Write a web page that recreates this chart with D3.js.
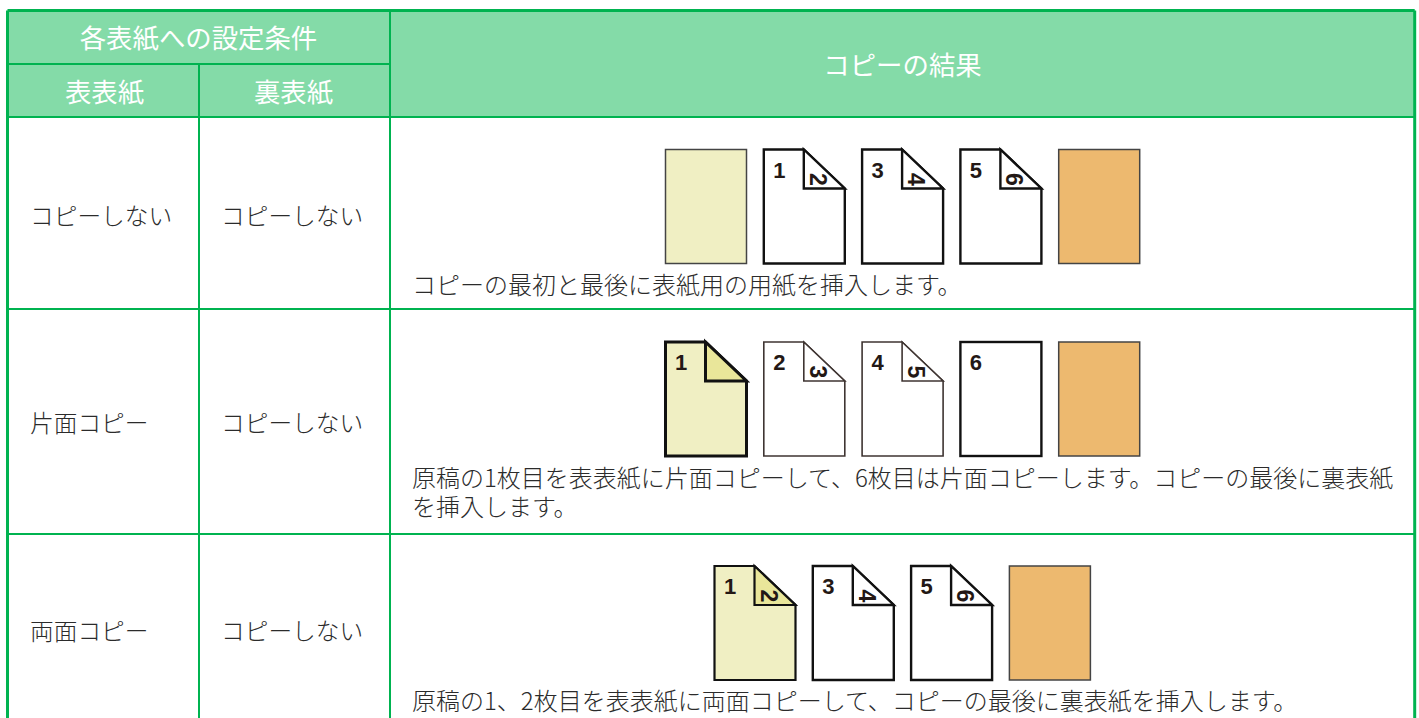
<!DOCTYPE html>
<html lang="ja">
<head>
<meta charset="utf-8">
<script src="https://cdn.jsdelivr.net/npm/d3@7"></script>
<style>
html, body { margin: 0; padding: 0; background: #fff; overflow: hidden; }
svg { display: block; }
text { font-family: "Noto Sans CJK JP", sans-serif; }
.num { font-family: "Liberation Sans", Arial, sans-serif; font-weight: bold; fill: #231815; }
</style>
</head>
<body>
<div class="canvas"></div>
<script>
const groupHeader = '各表紙への設定条件';
const columnHeaders = ['表表紙', '裏表紙'];
const resultHeader = 'コピーの結果';
const frontCover = ['コピーしない', '片面コピー', '両面コピー'];
const backCover = ['コピーしない', 'コピーしない', 'コピーしない'];
const notes = [
    ['コピーの最初と最後に表紙用の用紙を挿入します。'],
    ['原稿の1枚目を表表紙に片面コピーして、6枚目は片面コピーします。コピーの最後に裏表紙', 'を挿入します。'],
    ['原稿の1、2枚目を表表紙に両面コピーして、コピーの最後に裏表紙を挿入します。']
];
// one list of sheets per row: [front page, back page, kind]
const sheets = [
    [[null, null, 'blank'], ['1', '2', 'plain'], ['3', '4', 'plain'], ['5', '6', 'plain'], [null, null, 'back']],
    [['1', '', 'heavy'], ['2', '3', 'thin'], ['4', '5', 'thin'], ['6', null, 'plain'], [null, null, 'back']],
    [['1', '2', 'cover'], ['3', '4', 'plain'], ['5', '6', 'plain'], [null, null, 'back']]
];

const dims = { width: 1419, height: 718 };
const green = '#00b350', headFill = '#84dba8', ink = '#2b2b2b';
const colX = [7.5, 199, 390, 1414.7];
const lineY = [10.5, 64, 117, 309, 534];
const sheetTop = [149.5, 342, 566];
const sheetLeft = [665.5, 665.5, 714.5];
const rowBase = [225, 432, 640];
const noteBase = [294, 487, 710];
const page = { w: 81, h: 114, foldX: 41, foldY: 39 };
const styles = {
    blank: { fill: '#f0efc3', flap: '#f0efc3', stroke: '#444', width: 1.5 },
    plain: { fill: '#fff', flap: '#fff', stroke: '#111', width: 2.4 },
    thin: { fill: '#fff', flap: '#fff', stroke: '#3f3532', width: 1.6 },
    heavy: { fill: '#f0efc3', flap: '#e9e69a', stroke: '#111', width: 3 },
    cover: { fill: '#f0efc3', flap: '#e9e69a', stroke: '#111', width: 2.2 },
    back: { fill: '#edb96f', flap: '#edb96f', stroke: '#444', width: 1.5 }
};

const svg = d3.select('.canvas').append('svg')
    .attr('width', dims.width)
    .attr('height', dims.height);

// header fill
svg.append('rect')
    .attr('x', colX[0]).attr('y', lineY[0])
    .attr('width', colX[3] - colX[0]).attr('height', lineY[2] - lineY[0])
    .attr('fill', headFill);

// grid lines
const grid = [
    [colX[0], lineY[0], colX[3], lineY[0], 3],
    [colX[0], lineY[0], colX[0], dims.height, 3],
    [colX[3], lineY[0], colX[3], dims.height, 3],
    [colX[2], lineY[0], colX[2], dims.height, 2],
    [colX[1], lineY[1], colX[1], dims.height, 2],
    [colX[0], lineY[1], colX[2], lineY[1], 2],
    [colX[0], lineY[2], colX[3], lineY[2], 2],
    [colX[0], lineY[3], colX[3], lineY[3], 2],
    [colX[0], lineY[4], colX[3], lineY[4], 2]
];
svg.selectAll('line.grid').data(grid).enter().append('line')
    .attr('class', 'grid')
    .attr('x1', d => d[0]).attr('y1', d => d[1])
    .attr('x2', d => d[2]).attr('y2', d => d[3])
    .attr('stroke', green)
    .attr('stroke-width', d => d[4]);

// header text
const head = (txt, x, y) => svg.append('text')
    .attr('x', x).attr('y', y)
    .attr('text-anchor', 'middle')
    .attr('font-size', 26.4)
    .attr('fill', '#fff')
    .text(txt);
head(groupHeader, 198.5, 48);
head(columnHeaders[0], 104.5, 102);
head(columnHeaders[1], 293.5, 102);
head(resultHeader, 902.5, 75);

// first two columns
const cell = (list, x) => svg.selectAll(null).data(list).enter().append('text')
    .attr('x', x)
    .attr('y', (d, i) => rowBase[i])
    .attr('font-size', 23.7)
    .attr('font-weight', 300)
    .attr('fill', ink)
    .text(d => d);
cell(frontCover, 30);
cell(backCover, 221);

// notes
notes.forEach((lines, r) => {
    svg.selectAll(null).data(lines).enter().append('text')
        .attr('x', 412)
        .attr('y', (d, i) => noteBase[r] + i * 29)
        .attr('font-size', 24)
        .attr('font-weight', 300)
        .attr('fill', ink)
        .text(d => d);
});

// sheets
const slot = d3.scaleLinear().domain([0, 1]).range([0, 98.3]);
const sheetPath = d3.line();
const outline = sheetPath([
    [0, 0], [page.w - page.foldX, 0], [page.w, page.foldY], [page.w, page.h], [0, page.h]
]) + 'Z';
const flap = sheetPath([
    [page.w - page.foldX, 0], [page.w, page.foldY], [page.w - page.foldX, page.foldY]
]) + 'Z';

const rows = svg.selectAll('g.row').data(sheets).enter().append('g')
    .attr('class', 'row')
    .attr('transform', (d, r) => `translate(${sheetLeft[r]}, ${sheetTop[r]})`);

const sheet = rows.selectAll('g.sheet').data(d => d).enter().append('g')
    .attr('class', 'sheet')
    .attr('transform', (d, i) => `translate(${slot(i)}, 0)`);

sheet.each(function (d) {
    const g = d3.select(this);
    const [front, back, kind] = d;
    const st = styles[kind];

    if (back !== null) {
        g.append('path').attr('d', outline)
            .attr('fill', st.fill).attr('stroke', st.stroke)
            .attr('stroke-width', st.width);
        g.append('path').attr('d', flap)
            .attr('fill', st.flap)
            .attr('stroke', st.stroke).attr('stroke-width', st.width);
    } else {
        g.append('rect')
            .attr('width', page.w).attr('height', page.h)
            .attr('fill', st.fill).attr('stroke', st.stroke)
            .attr('stroke-width', st.width);
    }
    if (front !== null) {
        g.append('text').attr('class', 'num')
            .attr('x', 15.5).attr('y', 28)
            .attr('text-anchor', 'middle')
            .attr('font-size', 22).text(front);
    }
    if (back) {
        g.append('text').attr('class', 'num')
            .attr('transform', 'translate(46, 30) rotate(90)')
            .attr('text-anchor', 'middle')
            .attr('font-size', 23).text(back);
    }
});
</script>
</body>
</html>
